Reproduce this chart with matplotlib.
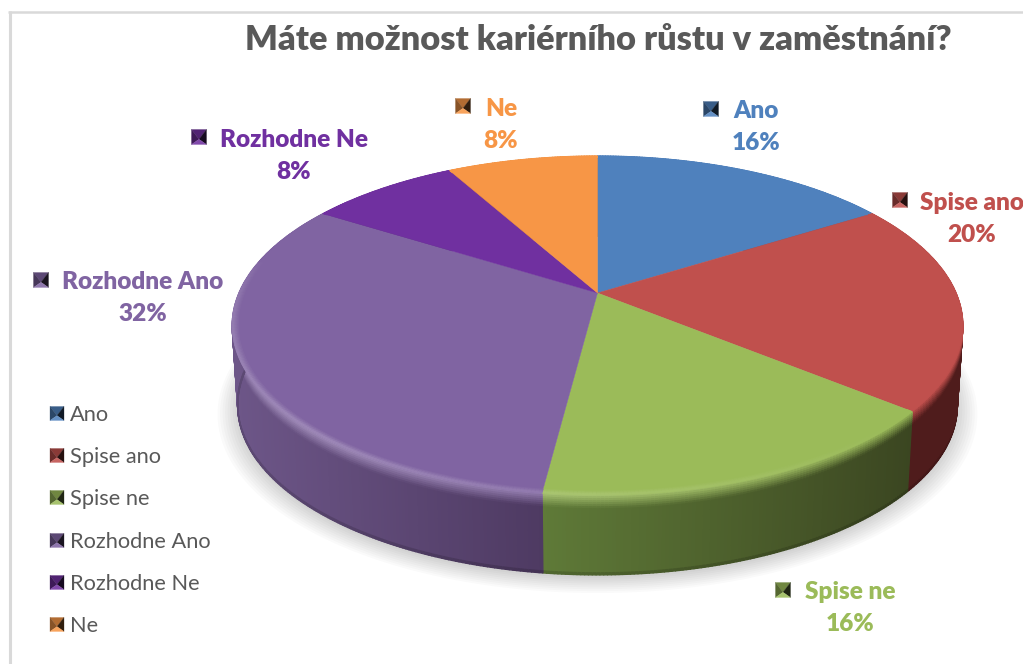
import numpy as np
import matplotlib
matplotlib.use("Agg")
import matplotlib.pyplot as plt
from matplotlib.collections import PolyCollection
from matplotlib.colors import to_rgb
from matplotlib.transforms import Transform

TITLE = "Máte možnost kariérního růstu v zaměstnání?"
categories = ["Ano", "Spise ano", "Spise ne", "Rozhodne Ano", "Rozhodne Ne", "Ne"]
shares = [16, 20, 16, 32, 8, 8]
slice_colors = ["#4f81bd", "#c0504d", "#9bbb59", "#8064a2", "#7030a0", "#f79646"]
side_left = ["#2f4d72", "#4f1c1c", "#5f7a38", "#6d5688", "#43205f", "#94592a"]
side_right = ["#2f4d72", "#4f1c1c", "#3b4621", "#4e3a62", "#43205f", "#94592a"]

# layout (pixels)
W, H = 1023, 664
CX, CY, GAMMA, P, DELTA = 597.5, 293.0, 0.1917, -107.0, 358.5
DEPTH = 80.0
label_xy = [(756, 111), (972, 203), (850, 592), (143, 282), (294, 140), (501, 109)]
marker_xy = [(711, 109), (900, 200), (783, 590), (41, 280), (199, 137), (463, 106)]
legend_y = [415, 457, 499, 542, 584, 626]


def project(x, y, depth=0.0, shrink=1.0):
    den = 1 + GAMMA * y
    return CX + shrink * DELTA * x / den, (CY + P * y) / den + depth


class Persp(Transform):
    input_dims = output_dims = 2

    def transform_non_affine(self, v):
        v = np.asarray(v, float)
        return np.column_stack(project(v[:, 0], v[:, 1]))


def lighten(c, f):
    c = np.array(to_rgb(c))
    return tuple(c + (1 - c) * f)


def mix(a, b, t):
    return tuple(np.array(to_rgb(a)) * (1 - t) + np.array(to_rgb(b)) * t)


def pyramid(ax, cx, cy, col, s=7.5):
    c = np.array(to_rgb(col))
    ay = cy + s * 0.3
    tri = [[(cx - s, cy - s), (cx + s, cy - s), (cx, ay)],
           [(cx - s, cy - s), (cx - s, cy + s), (cx, ay)],
           [(cx + s, cy - s), (cx + s, cy + s), (cx, ay)],
           [(cx - s, cy + s), (cx + s, cy + s), (cx, ay)]]
    cols = [c * 0.72, c * 0.55, c * 0.2, lighten(col, 0.12)]
    ax.add_collection(PolyCollection(tri, facecolors=cols, edgecolors=cols,
                                     linewidths=0.2, zorder=5))


fig = plt.figure(figsize=(W / 100, H / 100), dpi=100)
ax = fig.add_axes([0, 0, 1, 1])

# the top face: the library's pie, passed through a perspective transform
wedges, _ = ax.pie(shares, colors=slice_colors, startangle=90, counterclock=False,
                   radius=1.0, center=(0, 0))
persp = Persp()
for w in wedges:
    w.set_transform(persp + ax.transData)
    w.set_zorder(3)
    w.set_edgecolor(w.get_facecolor())
    w.set_linewidth(0.3)
ax.set_aspect("auto")
ax.set_xlim(0, W)
ax.set_ylim(H, 0)
ax.axis("off")

# soft shadow under the disc
t = np.linspace(0, 2 * np.pi, 361)
for k in range(9):
    sx, sy = project(np.cos(t), np.sin(t), DEPTH + 3, 0.985)
    mx, my = sx.mean(), sy.mean()
    grow = 1 + 0.007 * k
    ax.fill(mx + (sx - mx) * grow, my + (sy - my) * grow + 0.6 * k,
            color="black", alpha=0.02, lw=0, zorder=0)

# side wall, with a soft bevel around the rim
bands = [0, 2, 4, 6, 8, 10, 12, 14, DEPTH - 2, DEPTH]
inner = [0.984, 0.987, 0.990, 0.993, 0.996, 1.0]
edges = np.cumsum([0] + shares) / sum(shares) * 2 * np.pi
for i in range(len(shares)):
    n = max(int(np.degrees(edges[i + 1] - edges[i]) / 0.5), 2)
    a = np.linspace(edges[i], edges[i + 1], n + 1)
    xu, yu = np.sin(a), np.cos(a)
    px = project(xu, yu)[0]
    lo, hi = px.min(), px.max()
    polys, cols, rim, rimc = [], [], [], []
    for j in range(n):
        tt = ((px[j] + px[j + 1]) / 2 - lo) / max(hi - lo, 1)
        side = mix(side_left[i], side_right[i], tt)
        hl = np.clip(0.5 - 0.65 * xu[j], 0, 1) * np.clip(0.2 - yu[j], 0, 1) ** 0.5
        peak = lighten(slice_colors[i], 0.30 * hl)
        for b0, b1 in zip(bands[:-1], bands[1:]):
            s0, s1 = 1 - 0.015 * b0 / DEPTH, 1 - 0.015 * b1 / DEPTH
            polys.append([project(xu[j], yu[j], b0, s0), project(xu[j + 1], yu[j + 1], b0, s0),
                          project(xu[j + 1], yu[j + 1], b1, s1), project(xu[j], yu[j], b1, s1)])
            if b0 < 14:
                cols.append(mix(peak, side, (b0 + 1) / 14))
            elif b0 < DEPTH - 2:
                cols.append(side)
            else:
                cols.append(tuple(np.array(side) * 0.85))
        # highlight fading in on the top face just inside the rim
        for k, (r0, r1) in enumerate(zip(inner[:-1], inner[1:])):
            rim.append([project(r0 * xu[j], r0 * yu[j]), project(r0 * xu[j + 1], r0 * yu[j + 1]),
                        project(r1 * xu[j + 1], r1 * yu[j + 1]), project(r1 * xu[j], r1 * yu[j])])
            rimc.append(mix(slice_colors[i], peak, (k + 1) / len(inner)))
    ax.add_collection(PolyCollection(polys, facecolors=cols, edgecolors=cols,
                                     linewidths=1.0, zorder=2))
    ax.add_collection(PolyCollection(rim, facecolors=rimc, edgecolors=rimc,
                                     linewidths=0.6, zorder=4))

# frame
ax.plot([9.5, 9.5], [H, 11], color="#d9d9d9", lw=2.2, solid_capstyle="butt", zorder=1)
ax.plot([8, W], [12, 12], color="#d9d9d9", lw=1.8, solid_capstyle="butt", zorder=1)

ax.text(598, 40, TITLE, ha="center", va="center", fontsize=24.75, fontweight="heavy",
        family="Lato", color="#595959", zorder=6)

for name, val, col, (lx, ly), (mx, my) in zip(categories, shares, slice_colors, label_xy, marker_xy):
    ax.text(lx, ly, name, ha="center", va="center", fontsize=17.6, fontweight="heavy",
            family="Lato", color=col, zorder=6, clip_on=True)
    ax.text(lx, ly + 32, f"{val}%", ha="center", va="center", fontsize=17.6, fontweight="heavy",
            family="Lato", color=col, zorder=6)
    pyramid(ax, mx, my, col)

for name, col, y in zip(categories, slice_colors, legend_y):
    pyramid(ax, 57, y - 1.5, col, s=7)
    ax.text(69.5, y, name, ha="left", va="center", fontsize=15.65, family="Lato",
            color="#595959", zorder=6)

fig.savefig("out.png", dpi=100)
